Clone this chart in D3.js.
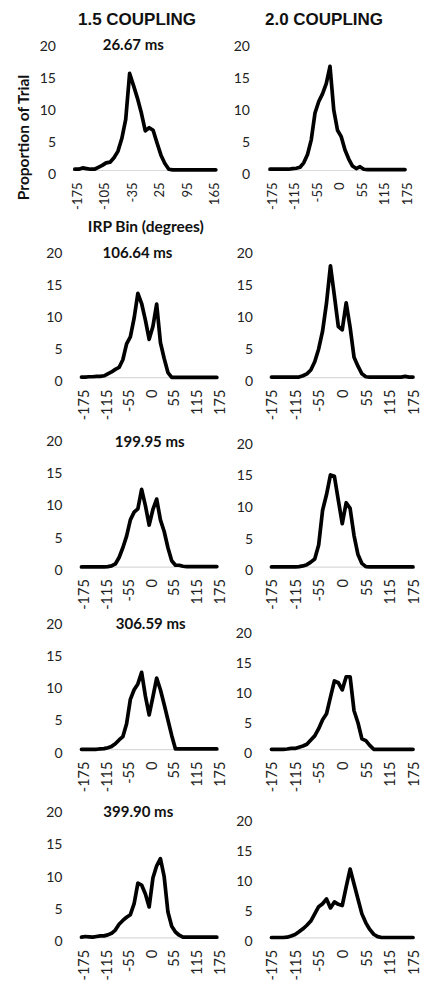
<!DOCTYPE html>
<html>
<head>
<meta charset="utf-8">
<script src="https://cdn.jsdelivr.net/npm/d3@7/dist/d3.min.js"></script>
<style>
  html, body { margin: 0; padding: 0; background: #ffffff; }
  svg { display: block; }
</style>
</head>
<body>
<svg id="chart" width="422" height="982"></svg>
<script>
// ---------------- DATA ----------------
const categories = [-175,-165,-155,-145,-135,-125,-115,-105,-95,-85,-75,-65,-55,-45,-35,-25,-15,-5,
                    0,5,15,25,35,45,55,65,75,85,95,105,115,125,135,145,155,165,175];
const columnTitles = ["1.5 COUPLING", "2.0 COUPLING"];
const timeLabels = ["26.67 ms", "106.64 ms", "199.95 ms", "306.59 ms", "399.90 ms"];
const yTicks = [0, 5, 10, 15, 20];
const yAxisTitle = "Proportion of Trial";
const xAxisTitle = "IRP Bin (degrees)";

const c15_t26  = [0.2,0.2,0.4,0.3,0.2,0.2, 0.5,0.8,1.2,1.3,2.0,3.0, 5.0,8.0,15.2,13.3,11.3,9.0, 6.2,6.7,6.3,4.3,2.4,1.1, 0.2,0.1,0.1,0.1,0.1,0.1,0.1,0.1,0.1,0.1,0.1,0.1,0.1];
const c20_t26  = [0.2,0.2,0.2,0.2,0.2,0.2, 0.3,0.35,0.5,1.2,2.5,4.8, 9.0,10.8,12.0,13.6,16.3,9.5, 6.3,5.3,3.2,1.8,0.7,0.3, 0.6,0.2,0.15,0.15,0.15,0.15,0.15,0.15,0.15,0.15,0.15,0.15,0.15];
const c15_t106 = [0.1,0.1,0.15,0.15,0.2,0.2, 0.3,0.6,0.9,1.3,1.6,2.8, 5.3,6.4,9.3,13.2,11.6,9.0, 6.0,8.0,11.5,5.5,3.0,0.8, 0.05,0.05,0.05,0.05,0.05,0.05,0.05,0.05,0.05,0.05,0.05,0.05,0.05];
const c20_t106 = [0.1,0.1,0.1,0.1,0.1,0.1, 0.1,0.1,0.3,0.6,1.2,2.5, 4.5,7.3,11.7,17.5,12.8,8.0, 7.5,11.7,7.9,3.2,1.8,0.6, 0.15,0.1,0.1,0.1,0.1,0.1,0.1,0.1,0.1,0.1,0.2,0.1,0.1];
const c15_t199 = [0.05,0.05,0.05,0.05,0.05,0.05, 0.05,0.1,0.2,0.5,1.5,3.0, 4.8,7.3,8.5,9.0,12.0,9.5, 6.5,8.9,10.5,7.3,5.5,3.0, 1.0,0.3,0.3,0.15,0.1,0.1,0.1,0.1,0.1,0.1,0.1,0.1,0.1];
const c20_t199 = [0.05,0.05,0.05,0.05,0.05,0.05, 0.05,0.1,0.2,0.4,0.8,1.3, 3.5,9.0,11.5,14.6,14.4,10.6, 6.9,10.2,9.3,5.0,2.0,0.6, 0.1,0.05,0.05,0.05,0.05,0.05,0.05,0.05,0.05,0.05,0.05,0.05,0.05];
const c15_t306 = [0.05,0.05,0.05,0.05,0.05,0.1, 0.15,0.3,0.5,0.9,1.5,2.0, 4.0,7.8,9.3,10.2,12.0,8.3, 5.4,8.2,11.1,9.3,7.0,4.6, 2.2,0.1,0.1,0.1,0.1,0.1,0.1,0.1,0.1,0.1,0.1,0.1,0.1];
const c20_t306 = [0.05,0.05,0.05,0.05,0.1,0.2, 0.2,0.4,0.6,0.9,1.6,2.3, 3.5,5.0,6.0,8.8,11.5,11.2, 10.0,12.2,12.2,6.5,4.5,1.8, 1.5,0.7,0.05,0.05,0.05,0.05,0.05,0.05,0.05,0.05,0.05,0.05,0.05];
const c15_t399 = [0.1,0.2,0.15,0.1,0.2,0.3, 0.3,0.45,0.7,1.2,2.1,2.7, 3.2,3.6,5.3,8.5,8.2,6.8, 4.8,9.3,11.2,12.3,9.5,4.0, 1.8,0.9,0.4,0.1,0.1,0.1,0.1,0.1,0.1,0.1,0.1,0.1,0.1];
const c20_t399 = [0.05,0.05,0.05,0.05,0.1,0.3, 0.55,1.0,1.5,2.1,2.8,4.0, 5.2,5.7,6.5,5.0,6.0,5.6, 5.4,8.5,11.5,9.0,6.5,4.0, 2.5,1.4,0.6,0.2,0.05,0.05,0.05,0.05,0.05,0.05,0.05,0.05,0.05];

const seriesList = [c15_t26, c20_t26, c15_t106, c20_t106, c15_t199, c20_t199, c15_t306, c20_t306, c15_t399, c20_t399];

// ---------------- LAYOUT ----------------
const layout = [
  {x0:74.8,  x1:215.8, yz:170.5, y20:42.8,  yr:56,   every:7, tf:13,   dx:2},
  {x0:270,   x1:405,   yz:170.5, y20:42.8,  yr:250,  every:6, tf:13,   dx:1.5},
  {x0:81.5,  x1:216.8, yz:377.7, y20:249.8, yr:62.5, every:6, tf:14.5, dx:2},
  {x0:271.5, x1:413,   yz:377.7, y20:249.8, yr:253,  every:6, tf:14.5, dx:0},
  {x0:81.5,  x1:216.8, yz:567.2, y20:437.5, yr:62.5, every:6, tf:14.5, dx:2},
  {x0:271.5, x1:413,   yz:567.2, y20:440.8, yr:253,  every:6, tf:14.5, dx:0},
  {x0:81.5,  x1:216.8, yz:749.6, y20:620.8, yr:62.5, every:6, tf:14.5, dx:2},
  {x0:271.5, x1:413,   yz:749.6, y20:630.2, yr:252,  every:6, tf:14.5, dx:0},
  {x0:81.5,  x1:216.8, yz:937.8, y20:809.2, yr:62.5, every:6, tf:14.5, dx:2},
  {x0:271.5, x1:413,   yz:937.8, y20:818.2, yr:252.5,every:6, tf:14.5, dx:0}
];
const timePos = [{x:133.3,y:45},{x:137.5,y:252.3},{x:149.7,y:441.7},{x:150.7,y:623.3},{x:138.3,y:811.7}];

const svg = d3.select("#chart");
const FONT = "Lato, 'Open Sans', sans-serif";

seriesList.forEach((vals, i) => {
  const L = layout[i];
  const g = svg.append("g");
  const x = d3.scalePoint().domain(categories).range([L.x0, L.x1]).padding(0);
  const y = d3.scaleLinear().domain([0, 20]).range([L.yz, L.y20]);

  // zero axis line
  g.append("line")
    .attr("x1", L.x0 - 2).attr("x2", L.x1 + 2)
    .attr("y1", y(0)).attr("y2", y(0))
    .attr("stroke", "#d9d9d9").attr("stroke-width", 1.2);

  // x axis
  const xAxis = d3.axisBottom(x)
    .tickValues(categories.filter((d, k) => k % L.every === 0))
    .tickSize(0);
  const gx = g.append("g").attr("transform", `translate(0,${y(0)})`).call(xAxis);
  gx.select(".domain").remove();
  gx.selectAll("text")
    .attr("transform", "rotate(-90)")
    .attr("x", -12).attr("y", L.dx).attr("dy", "0.36em")
    .style("text-anchor", "end")
    .style("font-family", FONT).style("font-size", L.tf + "px").style("fill", "#222");

  // y axis
  const yAxis = d3.axisLeft(y).tickValues(yTicks).tickSize(0);
  const gy = g.append("g").attr("transform", `translate(${L.yr},0)`).call(yAxis);
  gy.select(".domain").remove();
  gy.selectAll("text")
    .attr("x", 0).attr("y", 2.5).attr("dy", "0.36em")
    .style("text-anchor", "end")
    .style("font-family", FONT).style("font-size", "14px").style("fill", "#222");

  // series line
  const line = d3.line().x((d, k) => x(categories[k])).y(d => y(d));
  g.append("path").datum(vals)
    .attr("d", line)
    .attr("fill", "none").attr("stroke", "#000")
    .attr("stroke-width", 3.7)
    .attr("stroke-linejoin", "round").attr("stroke-linecap", "round");
});

// time labels (left column)
timeLabels.forEach((t, r) => {
  svg.append("text").attr("x", timePos[r].x).attr("y", timePos[r].y).attr("dy", "0.36em")
    .attr("text-anchor", "middle")
    .style("font-family", FONT).style("font-weight", "bold").style("font-size", "15px")
    .style("fill", "#111").text(t);
});

// column titles
[137, 324].forEach((cx, c) => {
  svg.append("text").attr("x", cx).attr("y", 25).attr("text-anchor", "middle")
    .style("font-family", "'Liberation Sans', Arial, sans-serif").style("font-weight", "bold")
    .style("font-size", "17px").style("fill", "#111").text(columnTitles[c]);
});

// axis titles
svg.append("text").attr("transform", "translate(29,137.5) rotate(-90)")
  .attr("text-anchor", "middle")
  .style("font-family", FONT).style("font-weight", "bold").style("font-size", "15.5px")
  .style("fill", "#111").text(yAxisTitle);
svg.append("text").attr("x", 145.8).attr("y", 231.5)
  .attr("text-anchor", "middle")
  .style("font-family", FONT).style("font-weight", "bold").style("font-size", "15.5px")
  .style("fill", "#111").text(xAxisTitle);
</script>
</body>
</html>
